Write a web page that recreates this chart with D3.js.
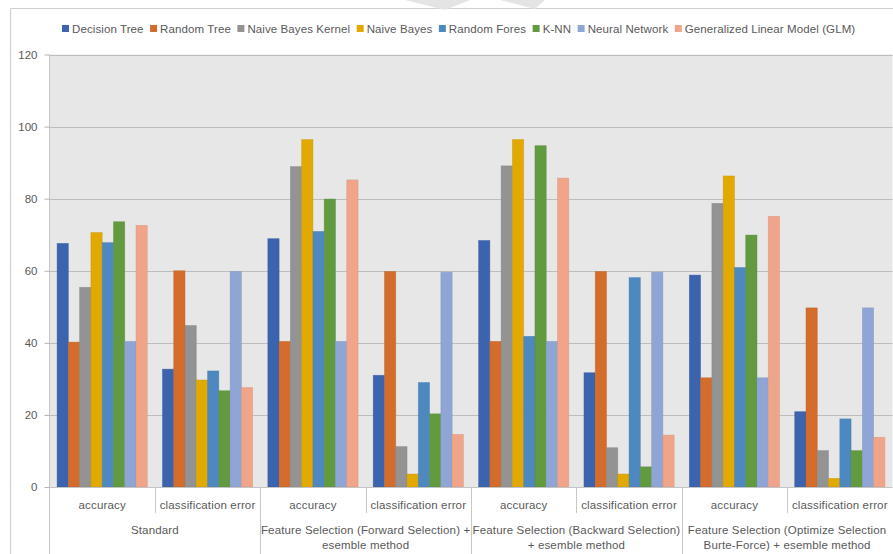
<!DOCTYPE html>
<html>
<head>
<meta charset="utf-8">
<script src="https://cdn.jsdelivr.net/npm/d3@7/dist/d3.min.js"></script>
<style>
  html, body { margin: 0; padding: 0; background: #ffffff; }
  svg { display: block; font-family: "Liberation Sans", Arial, sans-serif; }
</style>
</head>
<body>
<svg id="chart" width="893" height="554"></svg>
<script>
// Classifier names (legend order) and their bar colours
const models = ["Decision Tree", "Random Tree", "Naive Bayes Kernel", "Naive Bayes",
                "Random Fores", "K-NN", "Neural Network", "Generalized Linear Model (GLM)"];
const colors = ["#3c63ad", "#d46c2b", "#939393", "#e2a900", "#4d89c0", "#629b3f", "#8fa5d5", "#f0a489"];

// Outer category (method) labels, split into lines, and inner metric labels
const methods = [
  ["Standard"],
  ["Feature Selection (Forward Selection) +", "esemble method"],
  ["Feature Selection (Backward Selection)", "+ esemble method"],
  ["Feature Selection (Optimize Selection", "Burte-Force) + esemble method"]
];
const metrics = ["accuracy", "classification error"];

// One array per method/metric, in model order
const stdAccuracy  = [67.6, 40.2, 55.4, 70.6, 67.8, 73.6, 40.4, 72.6];
const stdError     = [32.7, 60.0, 44.8, 29.7, 32.2, 26.7, 59.8, 27.6];
const fwdAccuracy  = [68.9, 40.4, 88.9, 96.4, 70.9, 79.9, 40.4, 85.2];
const fwdError     = [31.0, 59.8, 11.2, 3.6, 29.0, 20.3, 59.6, 14.6];
const bwdAccuracy  = [68.4, 40.4, 89.1, 96.4, 41.8, 94.7, 40.4, 85.7];
const bwdError     = [31.7, 59.8, 10.9, 3.6, 58.1, 5.6, 59.6, 14.4];
const optAccuracy  = [58.8, 30.3, 78.7, 86.3, 60.9, 69.9, 30.3, 75.1];
const optError     = [20.9, 49.7, 10.1, 2.4, 18.9, 10.1, 49.7, 13.8];

const yTicks = [0, 20, 40, 60, 80, 100, 120];

const groupValues = [stdAccuracy, stdError, fwdAccuracy, fwdError,
                     bwdAccuracy, bwdError, optAccuracy, optError];
const groups = groupValues.map((vals, i) => ({
  key: "g" + i,
  method: Math.floor(i / 2),
  metric: metrics[i % 2],
  values: vals
}));

const svg = d3.select("#chart");
const W = 893, H = 554;
const plot = { left: 49.5, right: 892.5, top: 54.5, bottom: 487 };
const labelFont = "11.5px";
const labelSpacing = "0.15px";

// Chart area frame
svg.append("rect").attr("x", 0).attr("y", 0).attr("width", W).attr("height", H).attr("fill", "#fff");
svg.append("line").attr("x1", 10.5).attr("x2", W).attr("y1", 8.5).attr("y2", 8.5)
  .attr("stroke", "#d0d0d0").attr("stroke-width", 1.2);
svg.append("line").attr("x1", 10.5).attr("x2", 10.5).attr("y1", 8.5).attr("y2", H)
  .attr("stroke", "#d0d0d0").attr("stroke-width", 1.2);

// Faint mark at top of the sheet
svg.append("path")
  .attr("d", "M405,0 L470,0 L445,10 Z M500,0 L545,0 L535,9 Z")
  .attr("fill", "#e4e4e4");

// Scales
const y = d3.scaleLinear().domain([0, 120]).range([plot.bottom, plot.top]);
const x0 = d3.scaleBand().domain(groups.map(g => g.key)).range([plot.left, plot.right]).padding(0);
const bw = x0.bandwidth();
const edge = bw * 0.072;
const x1 = d3.scaleBand().domain(models).range([edge, bw - edge]).padding(0);

// Plot background
svg.append("rect")
  .attr("x", plot.left).attr("y", plot.top)
  .attr("width", plot.right - plot.left).attr("height", plot.bottom - plot.top)
  .attr("fill", "#e7e7e7");

// Horizontal gridlines
svg.append("g").selectAll("line").data(yTicks.filter(t => t > 0)).join("line")
  .attr("x1", plot.left).attr("x2", plot.right)
  .attr("y1", d => Math.round(y(d)) + 0.5).attr("y2", d => Math.round(y(d)) + 0.5)
  .attr("stroke", "#bdbdbd").attr("stroke-width", 1.1);

// Y axis
const yAxis = d3.axisLeft(y).tickValues(yTicks).tickSize(5).tickPadding(7);
const gy = svg.append("g").attr("transform", `translate(${plot.left},0)`).call(yAxis);
gy.select(".domain").attr("stroke", "#c4c4c4").attr("d", `M0,${plot.top}V${H}`);
gy.selectAll(".tick line").attr("stroke", "#b4b4b4");
gy.selectAll(".tick text").attr("fill", "#595959").style("font-size", "11.5px");

// Bars
const gBars = svg.append("g").selectAll("g").data(groups).join("g")
  .attr("transform", d => `translate(${x0(d.key)},0)`);
gBars.selectAll("rect").data(d => d.values.map((v, i) => ({ model: models[i], v, c: colors[i] })))
  .join("rect")
  .attr("x", d => x1(d.model))
  .attr("width", x1.bandwidth())
  .attr("y", d => y(d.v))
  .attr("height", d => y(0) - y(d.v))
  .attr("fill", d => d.c)
  .attr("stroke", d => d3.color(d.c).darker(0.35))
  .attr("stroke-opacity", 0.55)
  .attr("stroke-width", 0.7);

// X axis baseline
svg.append("line").attr("x1", plot.left).attr("x2", plot.right)
  .attr("y1", plot.bottom + 0.5).attr("y2", plot.bottom + 0.5)
  .attr("stroke", "#c4c4c4");

// Multi-level category axis: separators
const axisG = svg.append("g");
groups.forEach((g, i) => {
  if (i === 0) return;
  const xx = Math.round(x0(g.key)) + 0.5;
  const full = i % 2 === 0;
  axisG.append("line").attr("x1", xx).attr("x2", xx)
    .attr("y1", plot.bottom).attr("y2", full ? H : 513)
    .attr("stroke", "#c8c8c8");
});

// Metric labels
axisG.selectAll("text.metric").data(groups).join("text")
  .attr("class", "metric")
  .attr("x", d => x0(d.key) + bw / 2)
  .attr("y", 509)
  .attr("text-anchor", "middle")
  .attr("fill", "#595959")
  .style("font-size", labelFont)
  .style("letter-spacing", labelSpacing)
  .text(d => d.metric);

// Method labels
methods.forEach((lines, m) => {
  const cx = x0(groups[m * 2].key) + bw;
  const t = axisG.append("text")
    .attr("x", cx).attr("y", 534)
    .attr("text-anchor", "middle")
    .attr("fill", "#595959")
    .style("font-size", labelFont)
    .style("letter-spacing", labelSpacing);
  lines.forEach((ln, k) => {
    t.append("tspan").attr("x", cx).attr("dy", k === 0 ? 0 : 15).text(ln);
  });
});

// Legend
const legend = svg.append("g");
let lx = 62;
models.forEach((name, i) => {
  legend.append("rect").attr("x", lx).attr("y", 25).attr("width", 7).attr("height", 7)
    .attr("fill", colors[i]);
  const t = legend.append("text").attr("x", lx + 10).attr("y", 32.5)
    .attr("fill", "#595959").style("font-size", labelFont)
    .style("letter-spacing", "0.1px").text(name);
  lx += 10 + t.node().getComputedTextLength() + 6.5;
});
</script>
</body>
</html>
